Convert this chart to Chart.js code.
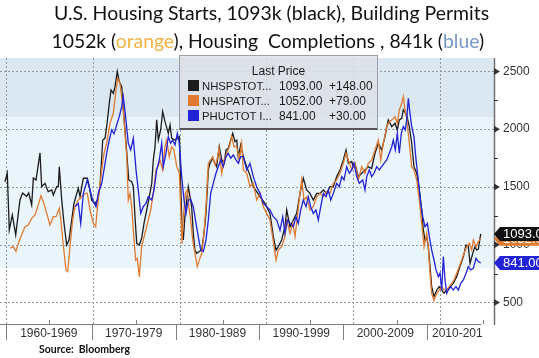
<!DOCTYPE html>
<html><head><meta charset="utf-8">
<script src="https://cdn.jsdelivr.net/npm/chart.js@4.4.1/dist/chart.umd.min.js"></script>
<style>
html,body{margin:0;padding:0;background:#fff;}
#wrap{position:relative;width:539px;height:358px;overflow:hidden;background:#fff;}
canvas{position:absolute;left:0;top:0;}
.tl{position:absolute;white-space:pre;font-family:Lato,'Open Sans',sans-serif;font-size:19px;line-height:1;color:#111;}
.bl{display:inline-block;width:0;height:0;vertical-align:baseline;}
#source{position:absolute;white-space:pre;font-family:Lato,'Open Sans',sans-serif;font-weight:bold;font-size:11px;line-height:1;color:#111;}
#legend{position:absolute;left:179px;top:55px;width:197px;height:72px;background:rgba(221,225,231,0.85);border:1px solid #9aa0a8;border-bottom:2px solid #555;font-family:'Liberation Sans',Arial,sans-serif;font-size:12px;color:#1a1a1a;}
#legend .hd{position:absolute;left:0;width:100%;top:8px;line-height:14px;text-align:center;}
#legend .row{position:absolute;left:0;width:100%;height:14px;line-height:14px;white-space:pre;}
#legend .sw{position:absolute;left:8px;top:1px;width:11px;height:11px;}
#legend .nm{position:absolute;left:22px;font-size:11.3px;}
#legend .vl{position:absolute;left:99px;}
#legend .ch{position:absolute;left:149px;}
</style></head>
<body>
<div id="wrap">
<canvas id="c" width="539" height="358"></canvas>
<div class="tl" id="t1">U.S. Housing Starts, 1093k (black), Building Permits<span class="bl"></span></div>
<div class="tl" id="t2">1052k (<span style="color:#f2b445">orange</span>), Housing  Completions , 841k (<span style="color:#7897c4">blue</span>)<span class="bl"></span></div>
<div id="legend"></div>
<div id="source">Source:  Bloomberg<span class="bl"></span></div>
</div>
<script>
// ---------------- data ----------------
const startsYears = [1959.88,1960.15,1960.38,1960.73,1961.12,1961.61,1961.92,1962.38,1962.62,1962.96,
1963.15,1963.46,1963.61,1963.92,1964.11,1964.49,1964.87,1965.27,1965.45,1965.84,
1966.03,1966.14,1966.42,1966.68,1966.99,1967.26,1967.57,1967.83,1968.33,1968.53,
1968.91,1969.37,1969.60,1969.87,1970.25,1970.56,1970.83,1971.14,1971.41,1971.67,
1971.90,1972.10,1972.36,1972.56,1972.82,1973.05,1973.33,1973.59,1973.85,1974.14,
1974.48,1974.67,1974.86,1975.06,1975.36,1975.63,1975.90,1976.21,1976.51,1976.79,
1976.97,1977.17,1977.36,1977.55,1977.82,1978.05,1978.32,1978.70,1978.90,1979.09,
1979.47,1979.74,1979.97,1980.13,1980.28,1980.43,1980.62,1980.82,1981.00,1981.20,
1981.39,1981.58,1981.77,1981.97,1982.27,1982.55,1982.81,1983.04,1983.31,1983.50,
1983.81,1984.08,1984.27,1984.57,1984.85,1985.12,1985.35,1985.61,1985.89,1986.12,
1986.38,1986.58,1986.76,1987.04,1987.34,1987.73,1988.11,1988.49,1989.26,1989.84,
1990.41,1990.80,1991.11,1991.37,1991.76,1992.14,1992.34,1992.72,1993.10,1993.49,
1993.87,1994.25,1994.64,1995.02,1995.40,1995.80,1996.18,1996.56,1996.95,1997.33,
1997.71,1998.10,1998.48,1998.86,1999.17,1999.44,1999.83,2000.01,2000.21,2000.59,
2000.98,2001.36,2001.74,2002.13,2002.51,2002.89,2003.28,2003.66,2004.04,2004.44,
2004.82,2005.08,2005.31,2005.59,2005.77,2006.16,2006.46,2006.74,2007.00,2007.32,
2007.62,2007.89,2008.08,2008.27,2008.47,2008.65,2008.85,2009.04,2009.31,2009.62,
2009.92,2010.20,2010.46,2010.77,2011.15,2011.53,2011.92,2012.30,2012.69,2013.00,
2013.26,2013.46,2013.77,2014.03,2014.23,2014.41,2014.69];
const startsValues = [1545,1618,1127,1257,1084,1387,1447,1418,1447,1344,
1577,1560,1635,1794,1502,1531,1459,1473,1430,1502,
1502,1675,1386,1187,997,1040,1213,1357,1488,1416,
1575,1575,1502,1386,1357,1386,1502,1906,1921,2065,
2224,2339,2310,2368,2498,2412,2368,2108,1860,1560,
1545,1502,1242,1012,997,1055,1184,1300,1415,1531,
1733,1848,2080,1906,1993,2152,2065,1964,2036,1921,
1906,1920,1935,1502,1155,1040,1250,1386,1502,1415,
1329,1098,952,925,940,954,1098,1271,1647,1704,
1748,1704,1675,1848,1733,1704,1820,1834,1906,1964,
1892,1906,1762,1863,1762,1675,1600,1502,1415,1357,
1271,1069,952,983,1040,1155,1300,1155,1213,1271,
1444,1575,1473,1444,1386,1444,1444,1473,1444,1502,
1502,1589,1647,1733,1820,1704,1720,1675,1700,1589,
1618,1647,1675,1660,1791,1878,1820,1935,2080,2022,
2051,1993,2080,2094,2166,2123,2022,1878,1675,1618,
1473,1300,1126,1040,1060,983,810,636,550,607,
636,607,579,607,636,665,723,810,896,997,
983,838,925,983,954,960,1093];

const permitsYears = [1960.46,1960.84,1961.15,1961.42,1961.81,1962.19,1962.57,1962.96,1963.34,1963.72,
1964.03,1964.30,1964.69,1965.07,1965.45,1965.76,1966.14,1966.34,1966.60,1966.91,
1967.11,1967.37,1967.68,1967.95,1968.33,1968.72,1969.10,1969.37,1969.68,1970.06,
1970.33,1970.63,1971.03,1971.29,1971.60,1971.98,1972.36,1972.67,1972.87,1973.13,
1973.33,1973.51,1973.91,1974.09,1974.29,1974.48,1974.75,1974.94,1975.13,1975.36,
1975.63,1976.01,1976.39,1976.67,1976.97,1977.28,1977.55,1977.74,1978.05,1978.32,
1978.51,1978.81,1979.09,1979.35,1979.67,1979.97,1980.13,1980.28,1980.43,1980.66,
1980.89,1981.08,1981.28,1981.51,1981.77,1982.04,1982.27,1982.55,1982.81,1983.04,
1983.31,1983.58,1983.81,1984.08,1984.27,1984.54,1984.85,1985.12,1985.43,1985.73,
1986.00,1986.27,1986.58,1986.88,1987.15,1987.34,1987.73,1988.11,1988.49,1988.88,
1989.26,1989.64,1990.03,1990.41,1990.80,1991.11,1991.37,1991.76,1992.14,1992.34,
1992.72,1993.03,1993.30,1993.56,1993.87,1994.07,1994.33,1994.64,1995.02,1995.40,
1995.80,1996.18,1996.56,1996.95,1997.33,1997.71,1998.10,1998.48,1998.86,1999.17,
1999.44,1999.83,2000.21,2000.59,2000.98,2001.36,2001.74,2002.13,2002.51,2002.89,
2003.17,2003.47,2003.86,2004.16,2004.44,2004.82,2005.08,2005.31,2005.59,2005.77,
2005.97,2006.16,2006.46,2006.74,2007.00,2007.32,2007.62,2007.89,2008.16,2008.47,
2008.65,2008.85,2009.04,2009.31,2009.62,2009.92,2010.20,2010.46,2010.77,2011.07,
2011.35,2011.61,2011.92,2012.22,2012.50,2012.77,2013.08,2013.38,2013.65,2013.84,
2014.15,2014.41,2014.69];
const permitsValues = [969,983,940,1013,1084,1156,1170,1228,1257,1343,
1424,1372,1271,1170,1242,1242,1314,1199,997,781,
766,983,1213,1329,1386,1415,1444,1444,1300,1184,
1155,1386,1647,1791,1878,2051,2137,2339,2440,2397,
2282,2166,1762,1386,1444,1329,1040,866,880,723,
983,1098,1213,1300,1444,1647,1680,1733,1647,1848,
1906,1762,1848,1820,1675,1618,1300,1011,1242,1444,
1473,1329,1213,1040,925,810,866,925,1098,1329,
1704,1733,1762,1690,1720,1834,1618,1733,1791,1848,
1935,1848,1850,1733,1878,1647,1618,1502,1531,1386,
1444,1329,1271,1213,1026,866,954,983,1069,1213,
1098,1184,1069,1242,1444,1560,1386,1415,1300,1329,
1415,1444,1415,1460,1444,1531,1560,1618,1704,1791,
1733,1647,1704,1560,1675,1618,1704,1733,1820,1906,
1733,1878,2022,2065,2080,2108,2051,2166,2224,2282,
2166,2094,1878,1675,1647,1560,1386,1184,983,1098,
983,752,579,516,579,607,636,607,607,636,
665,694,752,810,867,925,983,1011,954,1040,
983,1026,1052];

const completionsYears = [1967.95,1968.33,1968.61,1968.91,1969.37,1969.68,1969.99,1970.37,1970.63,1971.03,
1971.29,1971.60,1971.90,1972.18,1972.44,1972.75,1973.05,1973.33,1973.51,1973.82,
1974.09,1974.37,1974.67,1974.98,1975.24,1975.52,1975.82,1976.13,1976.39,1976.79,
1977.05,1977.36,1977.66,1977.94,1978.12,1978.43,1978.70,1978.97,1979.20,1979.47,
1979.74,1979.97,1980.24,1980.51,1980.74,1981.00,1981.28,1981.58,1981.89,1982.15,
1982.43,1982.73,1983.04,1983.31,1983.58,1983.88,1984.19,1984.46,1984.74,1985.03,
1985.35,1985.61,1985.89,1986.19,1986.50,1986.76,1987.04,1987.34,1987.73,1988.11,
1988.49,1988.88,1989.26,1989.64,1990.03,1990.41,1990.80,1991.19,1991.57,1991.88,
1992.14,1992.41,1992.72,1993.10,1993.41,1993.68,1993.95,1994.25,1994.56,1994.83,
1995.10,1995.40,1995.71,1995.98,1996.26,1996.56,1996.87,1997.13,1997.41,1997.71,
1998.10,1998.40,1998.68,1998.94,1999.25,1999.55,1999.83,2000.09,2000.40,2000.70,
2001.09,2001.36,2001.56,2001.86,2002.13,2002.40,2002.71,2003.01,2003.28,2003.55,
2003.86,2004.16,2004.44,2004.62,2004.85,2005.08,2005.31,2005.54,2005.77,2006.00,
2006.16,2006.35,2006.54,2006.74,2007.00,2007.24,2007.50,2007.78,2008.01,2008.27,
2008.54,2008.77,2009.04,2009.31,2009.54,2009.80,2010.00,2010.20,2010.38,2010.58,
2010.77,2010.96,2011.23,2011.53,2011.84,2012.11,2012.39,2012.69,2013.00,2013.26,
2013.54,2013.84,2014.15,2014.41,2014.69];
const completionsValues = [1329,1357,1184,1444,1560,1473,1386,1329,1444,1531,
1647,1791,1906,1993,1960,2036,2108,2195,2282,2080,
1878,1820,1921,1647,1473,1271,1329,1357,1415,1386,
1473,1647,1733,1878,1675,1791,1935,1878,1906,1863,
1964,1878,1589,1386,1271,1386,1390,1329,1184,1069,
954,940,1040,1213,1444,1531,1618,1675,1733,1675,
1762,1791,1748,1776,1733,1704,1762,1762,1647,1704,
1589,1502,1444,1357,1329,1300,1242,1213,1126,1242,
1098,1213,1184,1155,1242,1184,1300,1386,1329,1415,
1329,1271,1300,1213,1329,1444,1415,1473,1386,1444,
1531,1502,1589,1560,1675,1618,1647,1704,1589,1531,
1560,1473,1589,1647,1589,1618,1675,1647,1675,1704,
1733,1791,1848,1906,1820,1964,1791,1964,2022,1993,
2080,2267,2137,2022,1935,1733,1560,1357,1242,1155,
1184,1069,954,867,781,723,752,607,896,694,
579,607,636,607,636,607,665,694,752,810,
781,795,882,853,841];

const seriesNames = ['NHSPSTOT...', 'NHSPATOT...', 'PHUCTOT I...'];
const seriesChanges = ['+148.00', '+79.00', '+30.00'];
const seriesColors = ['#1c1c1c', '#e07a30', '#2222d6'];

const yMajorTicks = [500, 1000, 1500, 2000, 2500];
const yMinorTicks = [750, 1250, 1750, 2250];
const gridYears = [1960, 1970, 1980, 1990, 2000, 2010];
const midDecadeYears = [1965, 1975, 1985, 1995, 2005, 2015];
const decadeLabels = ['1960-1969', '1970-1979', '1980-1989', '1990-1999', '2000-2009', '2010-2019'];
const decadeStarts = [1960, 1969.87, 1979.55, 1989.18, 1998.86, 2008.54];
const axisEndYear = 2014.75;
const bandUpper = 2103, bandLower = 796;
const xMin = 1959.31, xMax = 2016.22, yMin = 313, yMax = 2616;

// ---------------- legend ----------------
const lastVals = [startsValues.at(-1), permitsValues.at(-1), completionsValues.at(-1)];
const lg = document.getElementById('legend');
let html = '<div class="hd">Last Price</div>';
const rowTops = [22.5, 37.5, 53];
for (let i = 0; i < 3; i++) {
  html += `<div class="row" style="top:${rowTops[i]}px"><span class="sw" style="background:${seriesColors[i]}"></span>` +
          `<span class="nm">${seriesNames[i]}</span><span class="vl">${lastVals[i].toFixed(2)}</span><span class="ch">${seriesChanges[i]}</span></div>`;
}
lg.innerHTML = html;

// ---------------- text placement ----------------
function place(el, left, width, baseline) {
  el.style.left = left + 'px'; el.style.top = '0px';
  const fs = parseFloat(getComputedStyle(el).fontSize);
  const w = el.getBoundingClientRect().width;
  el.style.fontSize = (fs * width / w).toFixed(2) + 'px';
  const m = el.querySelector('.bl');
  const b = m.getBoundingClientRect().top - el.getBoundingClientRect().top;
  el.style.top = (baseline - b) + 'px';
}
function layoutText() {
  place(document.getElementById('t1'), 54, 435, 20);
  place(document.getElementById('t2'), 51.5, 432.5, 47.5);
  place(document.getElementById('source'), 39, 91, 353);
}
layoutText();
if (document.fonts && document.fonts.ready) document.fonts.ready.then(layoutText);

// ---------------- chart ----------------
const zip = (xs, ys) => xs.map((x, i) => ({x: x, y: ys[i]}));

const decor = {
  id: 'decor',
  beforeDraw(chart) {
    const {ctx, chartArea: a, scales: {y}} = chart;
    const y1 = y.getPixelForValue(bandUpper), y2 = y.getPixelForValue(bandLower);
    ctx.save();
    ctx.fillStyle = '#dbe8f1';
    ctx.fillRect(a.left, a.top, a.right - a.left, y1 - a.top);
    ctx.fillStyle = '#e9f4fb';
    ctx.fillRect(a.left, y1, a.right - a.left, y2 - y1);
    ctx.restore();
  },
  beforeDatasetsDraw(chart) {
    const {ctx, chartArea: a, scales: {x, y}} = chart;
    ctx.save();
    ctx.strokeStyle = '#9099a2';
    ctx.lineWidth = 1;
    ctx.setLineDash([2, 2]);
    yMajorTicks.forEach(v => {
      const py = Math.round(y.getPixelForValue(v)) + 0.5;
      ctx.beginPath(); ctx.moveTo(a.left, py); ctx.lineTo(a.right, py); ctx.stroke();
    });
    gridYears.forEach(v => {
      const px = Math.round(x.getPixelForValue(v)) + 0.5;
      ctx.beginPath(); ctx.moveTo(px, a.top); ctx.lineTo(px, a.bottom); ctx.stroke();
    });
    ctx.restore();
  },
  afterDraw(chart) {
    const {ctx, chartArea: a, scales: {x, y}} = chart;
    ctx.save();
    // right axis line
    ctx.strokeStyle = '#707070'; ctx.lineWidth = 1.5;
    ctx.beginPath(); ctx.moveTo(a.right + 0.5, a.top); ctx.lineTo(a.right + 0.5, a.bottom + 1); ctx.stroke();
    // bottom axis line
    const xEnd = x.getPixelForValue(axisEndYear);
    ctx.lineWidth = 1; ctx.strokeStyle = '#808080';
    ctx.beginPath(); ctx.moveTo(a.left, a.bottom + 0.5); ctx.lineTo(xEnd, a.bottom + 0.5); ctx.stroke();
    // decade separators below the axis
    decadeStarts.forEach(v => {
      const px = Math.round(x.getPixelForValue(v)) + 0.5;
      ctx.beginPath(); ctx.moveTo(px, a.bottom); ctx.lineTo(px, a.bottom + 16); ctx.stroke();
    });
    // mid-decade ticks
    midDecadeYears.forEach(v => {
      const px = Math.round(x.getPixelForValue(v)) + 0.5;
      ctx.beginPath(); ctx.moveTo(px, a.bottom - 4); ctx.lineTo(px, a.bottom); ctx.stroke();
    });
    // decade labels (clipped at axis end)
    ctx.save();
    ctx.beginPath(); ctx.rect(0, a.bottom, xEnd + 1, 30); ctx.clip();
    ctx.fillStyle = '#333'; ctx.font = '12px "Liberation Sans", Arial, sans-serif';
    ctx.textAlign = 'center'; ctx.textBaseline = 'middle';
    decadeLabels.forEach((lab, i) => {
      const s = x.getPixelForValue(decadeStarts[i]);
      const e = i + 1 < decadeStarts.length ? x.getPixelForValue(decadeStarts[i + 1]) : a.right;
      ctx.fillText(lab, (s + e) / 2, a.bottom + 10);
    });
    ctx.restore();
    // y tick marks
    ctx.fillStyle = '#333'; ctx.strokeStyle = '#333'; ctx.lineWidth = 1;
    yMajorTicks.forEach(v => {
      const py = y.getPixelForValue(v);
      ctx.beginPath(); ctx.moveTo(a.right, py - 3.5); ctx.lineTo(a.right + 6, py); ctx.lineTo(a.right, py + 3.5); ctx.closePath(); ctx.fill();
    });
    yMinorTicks.forEach(v => {
      const py = Math.round(y.getPixelForValue(v)) + 0.5;
      ctx.beginPath(); ctx.moveTo(a.right, py); ctx.lineTo(a.right + 4, py); ctx.stroke();
    });
    // last value tags
    const tags = [[lastVals[1], seriesColors[1]], [lastVals[0], '#111'], [lastVals[2], seriesColors[2]]];
    ctx.font = '13px "Liberation Sans", Arial, sans-serif';
    ctx.textAlign = 'left'; ctx.textBaseline = 'middle';
    tags.forEach(([v, col]) => {
      const cy = y.getPixelForValue(v);
      ctx.fillStyle = col;
      ctx.beginPath();
      ctx.moveTo(a.right, cy); ctx.lineTo(a.right + 6, cy - 7); ctx.lineTo(chart.width + 2, cy - 7);
      ctx.lineTo(chart.width + 2, cy + 7); ctx.lineTo(a.right + 6, cy + 7); ctx.closePath(); ctx.fill();
      ctx.fillStyle = '#fff';
      ctx.fillText(v.toFixed(2), a.right + 9, cy + 0.5);
    });
    ctx.restore();
  }
};

new Chart(document.getElementById('c'), {
  type: 'line',
  data: {
    datasets: [
      {label: seriesNames[2], data: zip(completionsYears, completionsValues), borderColor: seriesColors[2], order: 0},
      {label: seriesNames[1], data: zip(permitsYears, permitsValues), borderColor: seriesColors[1], order: 1},
      {label: seriesNames[0], data: zip(startsYears, startsValues), borderColor: seriesColors[0], order: 2}
    ]
  },
  options: {
    responsive: false,
    animation: false,
    devicePixelRatio: 1,
    layout: {padding: {top: 58, left: 0, right: 0, bottom: 34}},
    elements: {line: {borderWidth: 1.3, tension: 0, fill: false}, point: {radius: 0}},
    plugins: {legend: {display: false}, tooltip: {enabled: false}, title: {display: false}},
    scales: {
      x: {type: 'linear', min: xMin, max: xMax, display: false},
      y: {
        type: 'linear', position: 'right', min: yMin, max: yMax,
        afterBuildTicks: s => { s.ticks = yMajorTicks.map(v => ({value: v})); },
        afterFit: s => { s.width = 45; },
        grid: {display: false, drawTicks: false},
        border: {display: false},
        ticks: {padding: 9, color: '#333', font: {family: '"Liberation Sans", Arial, sans-serif', size: 12}, callback: v => String(v)}
      }
    }
  },
  plugins: [decor]
});
</script>
</body></html>
